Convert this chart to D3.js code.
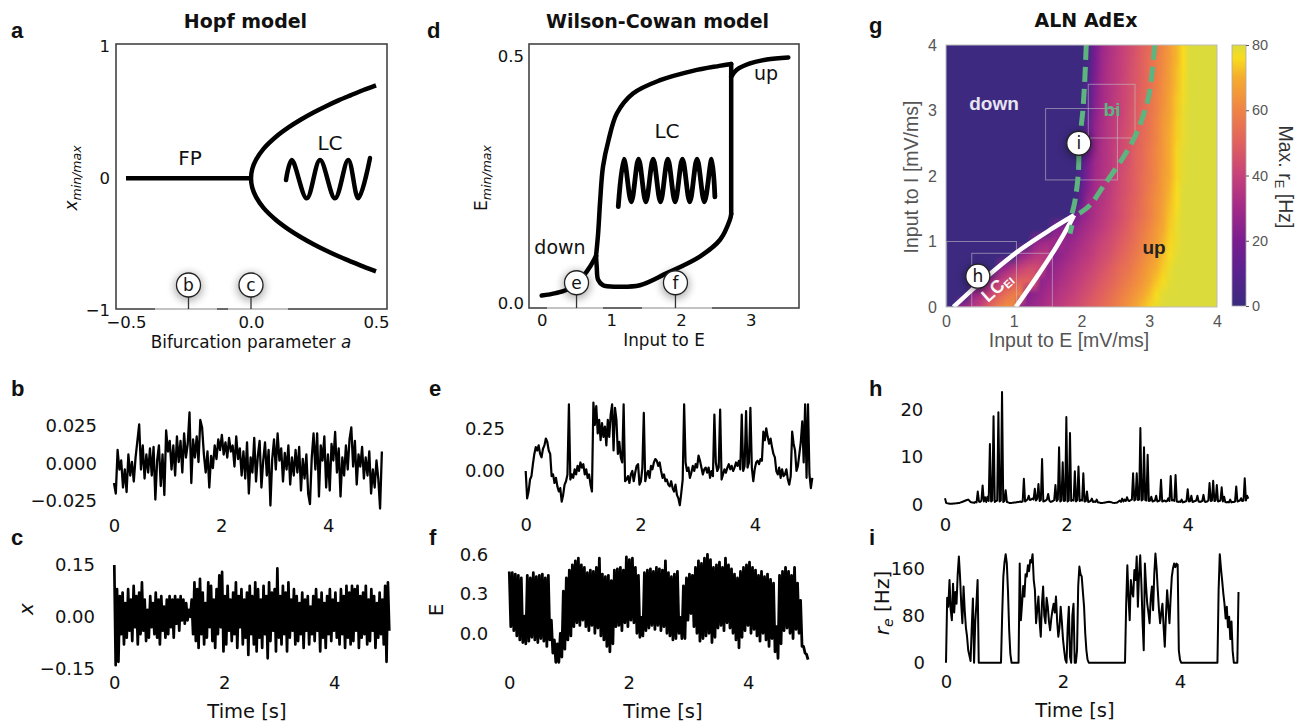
<!DOCTYPE html>
<html>
<head lang="en">
  <meta charset="UTF-8">
  <title>Hopf, Wilson-Cowan and ALN AdEx</title>
  <script src="https://cdn.jsdelivr.net/npm/d3@7/dist/d3.min.js"></script>
</head>
<style>
  body { margin: 0; background: #fff; }
  #fig text { font-family: "DejaVu Sans", sans-serif; }
</style>
<body>
<svg id="fig" width="1302" height="724"></svg>
<script>
  var ARIAL = '"Liberation Sans", Arial, sans-serif';

  // ---------- panel a : Hopf bifurcation ----------
  var hopfFpA    = [-0.5, 0];
  var hopfFpX    = [0, 0];
  var hopfLcA    = [0, 0.005, 0.02, 0.05, 0.1, 0.15, 0.2, 0.25, 0.3, 0.35, 0.4, 0.45, 0.5];
  var hopfLcMax  = [0, 0.071, 0.141, 0.224, 0.316, 0.387, 0.447, 0.5, 0.548, 0.592, 0.632, 0.671, 0.707];
  var hopfLcMin  = [0, -0.071, -0.141, -0.224, -0.316, -0.387, -0.447, -0.5, -0.548, -0.592, -0.632, -0.671, -0.707];
  var hopfIconA  = [0.14, 0.163, 0.223, 0.276, 0.336, 0.389, 0.429, 0.476];
  var hopfIconX  = [-0.013, 0.139, -0.152, 0.139, -0.152, 0.139, -0.152, 0.154];
  var hopfMarkA  = [-0.25, 0];
  var hopfMarkLab = ['b', 'c'];

  // ---------- panel d : Wilson-Cowan bifurcation ----------
  var wcDownIn = [0, 0.2, 0.36, 0.5, 0.6, 0.7, 0.78];
  var wcDownE  = [0.015, 0.02, 0.027, 0.04, 0.055, 0.075, 0.095];
  var wcMaxIn  = [0.78, 0.81, 0.84, 0.88, 0.96, 1.08, 1.31, 1.70, 2.17, 2.55, 2.72];
  var wcMaxE   = [0.095, 0.141, 0.209, 0.276, 0.33, 0.384, 0.424, 0.451, 0.47, 0.48, 0.484];
  var wcMinIn  = [0.78, 0.79, 0.81, 0.88, 1.08, 1.41, 1.79, 2.27, 2.56, 2.70, 2.72];
  var wcMinE   = [0.095, 0.073, 0.047, 0.036, 0.033, 0.036, 0.06, 0.094, 0.128, 0.168, 0.18];
  var wcJumpIn = [2.72, 2.72];
  var wcJumpE  = [0.484, 0.18];
  var wcUpIn   = [2.72, 2.80, 2.99, 3.23, 3.54];
  var wcUpE    = [0.458, 0.472, 0.485, 0.493, 0.497];
  var wcIconIn = [1.099, 1.181, 1.286, 1.39, 1.495, 1.6, 1.705, 1.81, 1.915, 2.02, 2.125, 2.23, 2.335, 2.44, 2.486];
  var wcIconE  = [0.195, 0.291, 0.205, 0.291, 0.205, 0.291, 0.205, 0.291, 0.205, 0.291, 0.205, 0.291, 0.205, 0.291, 0.215];
  var wcMarkIn = [0.5, 1.92];
  var wcMarkLab = ['e', 'f'];

  // ---------- panel g : ALN state space, max rE [Hz] ----------
  // rows: input to I = 0, 0.2, ... 4.0 ; columns: input to E = 0, 0.1, ... 4.0
  var alnRate = [
    [1,1,25,30,35,40,48,55,60,63,62,23,26,29,31,34,36,38,41,43,45,48,50,53,56,58,62,65,68,72,75,78,80,80,80,80,80,80,80,80,80],
    [1,1,1,1,28,32,38,44,50,55,58,58,22,25,28,31,33,36,38,40,43,45,48,50,53,56,59,62,65,68,72,76,79,80,80,80,80,80,80,80,80],
    [1,1,1,1,1,1,28,33,38,43,47,50,50,48,25,28,30,33,35,38,40,43,45,48,50,53,56,59,62,65,69,73,76,79,80,80,80,80,80,80,80],
    [1,1,1,1,1,1,1,1,25,30,35,40,43,44,42,24,27,30,33,35,38,40,43,45,48,51,54,56,60,63,67,70,74,78,80,80,80,80,80,80,80],
    [1,1,1,1,1,1,1,1,1,1,1,26,30,34,36,36,23,26,29,32,35,37,40,43,45,48,51,54,57,61,64,68,72,76,79,80,80,80,80,80,80],
    [1,1,1,1,1,1,1,1,1,1,1,1,1,24,28,30,30,28,26,29,32,35,38,41,43,46,49,52,55,59,63,66,71,75,78,80,80,80,80,80,80],
    [1,1,1,1,1,1,1,1,1,1,1,1,1,1,1,1,22,24,23,25,29,32,35,38,41,44,47,50,54,57,61,65,69,74,78,80,80,80,80,80,80],
    [1,1,1,1,1,1,1,1,1,1,1,1,1,1,1,1,1,1,1,18,25,29,33,36,39,42,45,48,52,55,59,63,68,73,77,80,80,80,80,80,80],
    [1,1,1,1,1,1,1,1,1,1,1,1,1,1,1,1,1,1,1,1,16,29,32,35,38,42,45,48,51,55,59,63,67,72,76,80,80,80,80,80,80],
    [1,1,1,1,1,1,1,1,1,1,1,1,1,1,1,1,1,1,1,1,14,24,31,34,37,41,44,47,50,54,58,62,66,71,76,80,80,80,80,80,80],
    [1,1,1,1,1,1,1,1,1,1,1,1,1,1,1,1,1,1,1,1,10,22,30,34,37,40,44,47,50,54,57,61,66,70,75,79,80,80,80,80,80],
    [1,1,1,1,1,1,1,1,1,1,1,1,1,1,1,1,1,1,1,1,9,21,29,33,36,40,43,46,50,53,57,61,65,70,75,79,80,80,80,80,80],
    [1,1,1,1,1,1,1,1,1,1,1,1,1,1,1,1,1,1,1,1,6,18,28,33,36,40,43,46,50,53,57,61,65,70,75,79,80,80,80,80,80],
    [1,1,1,1,1,1,1,1,1,1,1,1,1,1,1,1,1,1,1,1,4,16,27,32,36,39,43,46,49,53,56,60,65,70,74,78,80,80,80,80,80],
    [1,1,1,1,1,1,1,1,1,1,1,1,1,1,1,1,1,1,1,1,1,14,26,32,36,39,42,45,49,52,56,60,65,69,74,78,80,80,80,80,80],
    [1,1,1,1,1,1,1,1,1,1,1,1,1,1,1,1,1,1,1,1,1,10,24,31,35,38,41,45,48,52,55,59,64,68,73,78,80,80,80,80,80],
    [1,1,1,1,1,1,1,1,1,1,1,1,1,1,1,1,1,1,1,1,1,8,23,30,34,38,41,44,48,51,55,59,63,68,73,77,80,80,80,80,80],
    [1,1,1,1,1,1,1,1,1,1,1,1,1,1,1,1,1,1,1,1,1,8,22,30,34,37,41,44,47,51,54,58,63,67,72,77,80,80,80,80,80],
    [1,1,1,1,1,1,1,1,1,1,1,1,1,1,1,1,1,1,1,1,1,6,21,29,34,37,40,44,47,50,54,58,62,67,72,76,80,80,80,80,80],
    [1,1,1,1,1,1,1,1,1,1,1,1,1,1,1,1,1,1,1,1,1,5,20,29,33,37,40,43,47,50,54,58,62,66,71,76,80,80,80,80,80],
    [1,1,1,1,1,1,1,1,1,1,1,1,1,1,1,1,1,1,1,1,1,5,20,28,33,36,40,43,46,50,53,57,61,66,71,76,80,80,80,80,80]
  ];
  var alnEStep = 0.1, alnIStep = 0.2;
  var alnBiLeftE  = [2.07, 2.05, 2.02, 1.97, 1.95, 1.90, 1.86];
  var alnBiLeftI  = [4.0, 3.5, 3.0, 2.5, 2.0, 1.6, 1.43];
  var alnBiStubE  = [1.83, 1.86];
  var alnBiStubI  = [1.12, 1.25];
  var alnBiRightE = [3.08, 2.99, 2.81, 2.62, 2.32, 2.13, 1.97];
  var alnBiRightI = [4.0, 3.21, 2.65, 2.29, 1.84, 1.56, 1.43];
  var alnLcUpE    = [0.11, 0.60, 1.09, 1.54, 1.89];
  var alnLcUpI    = [0.0, 0.46, 0.87, 1.18, 1.40];
  var alnLcLoE    = [1.03, 1.34, 1.63, 1.83, 1.89];
  var alnLcLoI    = [0.0, 0.46, 0.92, 1.28, 1.40];
  var alnMarkE    = [0.47, 1.96];
  var alnMarkI    = [0.47, 2.5];
  var alnMarkLab  = ['h', 'i'];
  var alnBoxes    = [[1.47, 2.53, 1.94, 3.03], [2.10, 2.79, 2.58, 3.40], [0.01, 1.04, 0.0, 1.0], [0.38, 1.57, 0.0, 0.82]];
  var cbarTicks   = [0, 20, 40, 60, 80];
  var cmapVals    = [0, 10, 20, 30, 40, 50, 60, 70, 76, 80];
  var cmapCols    = ['#3a2b7e', '#58228f', '#7a1d90', '#a22a88', '#c6417a', '#e1615f', '#ef8345', '#f5ac2f', '#f8dc1f', '#dcdb3c'];

  // ---------- time series (sampled evenly over 0..5 s) ----------
  var hopfB = [-0.013,-0.02,0.009,-0.004,0.002,-0.016,-0.004,-0.019,0.006,-0.008,
    0.001,-0.012,0.004,0.015,0.026,-0.004,0.012,-0.01,0.006,-0.006,
    0.01,-0.008,0.011,-0.024,0.002,0.012,-0.015,0.006,-0.021,0.022,
    0.008,0.015,-0.004,0.012,-0.008,0.018,0.001,0.015,-0.006,0.02,
    0.004,0.013,0.034,-0.013,0.016,0.004,0.018,0.001,0.029,0.024,
    0.006,-0.006,0.008,-0.016,0.005,-0.003,0.012,0.003,0.016,0.009,
    0.019,0.006,0.014,0.004,0.017,0.008,0.012,-0.002,0.018,0.003,
    0.01,-0.008,0.008,-0.01,0.014,-0.02,0.004,-0.006,0.017,-0.012,
    0.005,0.015,-0.016,0.002,0.014,-0.008,0.009,-0.028,0.003,0.016,
    -0.004,0.02,0.002,0.01,-0.012,0.007,-0.004,0.012,-0.014,0.004,
    -0.008,0.009,-0.006,0.011,-0.018,0.003,-0.01,0.006,-0.02,-0.027,
    0.004,0.02,-0.004,0.02,-0.022,0.012,0.002,0.018,-0.016,0.006,
    -0.018,0.013,0.002,0.021,-0.006,0.01,-0.022,0.004,-0.008,0.012,
    -0.004,0.016,0.024,-0.002,0.015,-0.014,0.006,-0.002,0.011,-0.01,
    0.004,-0.008,0.008,-0.02,-0.004,-0.016,0.002,-0.01,-0.03,0.008];

  var hopfC = [0.15,-0.14,0.08,-0.13,0.06,-0.05,0.07,-0.08,0.04,-0.06,0.08,-0.04,0.05,-0.07,0.09,-0.03,0.06,-0.08,0.07,-0.05,
    0.1,-0.04,0.05,-0.07,0.02,-0.06,0.06,-0.03,0.04,-0.05,0.07,-0.06,0.05,-0.08,0.06,-0.04,0.03,-0.06,0.05,-0.05,
    0.06,-0.03,0.05,-0.06,0.06,-0.02,0.05,-0.04,0.06,-0.01,0.05,-0.02,0.04,-0.01,0.02,0.0,0.05,-0.05,0.1,-0.07,
    0.08,-0.09,0.11,-0.05,0.07,-0.08,0.04,-0.06,0.1,-0.03,0.09,-0.07,0.05,-0.09,0.08,-0.05,0.12,-0.03,0.13,-0.1,
    0.06,-0.08,0.09,-0.04,0.05,-0.07,0.07,-0.05,0.1,-0.09,0.06,-0.03,0.08,-0.08,0.05,-0.06,0.07,-0.11,0.09,-0.05,
    0.06,-0.08,0.1,-0.1,0.08,-0.06,0.05,-0.09,0.09,-0.05,0.06,-0.12,0.1,-0.07,0.07,-0.04,0.08,-0.1,0.14,-0.06,
    0.06,-0.08,0.09,-0.05,0.07,-0.1,0.1,-0.06,0.05,-0.04,0.08,-0.08,0.06,-0.07,0.04,-0.05,0.07,-0.09,0.05,-0.04,
    0.06,-0.08,0.03,-0.05,0.06,-0.07,0.08,-0.04,0.05,-0.1,0.07,-0.06,0.04,-0.09,0.06,-0.05,0.08,-0.07,0.05,-0.04,
    0.07,-0.06,0.04,-0.08,0.08,-0.05,0.06,-0.09,0.09,-0.06,0.07,-0.08,0.09,-0.07,0.08,-0.04,0.09,-0.09,0.06,-0.06,
    0.07,-0.05,0.09,-0.08,0.05,-0.07,0.08,-0.04,0.06,-0.09,0.04,-0.06,0.07,-0.05,0.05,-0.08,0.09,-0.13,0.1,-0.04];

  var wcE = [0.0,-0.16,-0.12,-0.05,-0.03,0.04,0.1,0.14,0.12,0.15,
    0.1,0.08,0.13,0.15,0.19,0.17,0.12,0.1,-0.03,-0.02,
    -0.07,-0.04,-0.09,-0.12,-0.1,-0.18,-0.14,-0.08,-0.06,-0.02,
    0.39,-0.05,-0.02,-0.04,0.01,-0.02,0.03,0.0,0.05,0.02,
    0.04,-0.02,0.01,-0.04,-0.02,-0.08,-0.12,0.4,0.27,0.38,
    0.22,0.3,0.18,0.28,0.2,0.26,0.15,0.3,0.2,0.33,
    0.39,0.12,0.37,0.3,0.1,0.17,0.08,0.05,0.39,-0.06,
    -0.05,-0.03,-0.07,-0.02,0.0,-0.06,-0.01,0.03,0.04,-0.08,
    -0.06,0.02,0.34,-0.06,-0.02,0.0,-0.04,0.03,0.01,0.05,
    0.07,0.06,0.03,0.05,0.0,-0.04,-0.02,-0.06,-0.05,-0.08,
    -0.09,-0.06,-0.1,-0.12,-0.08,-0.14,-0.16,-0.2,-0.13,-0.05,
    0.39,0.05,0.0,0.02,-0.04,-0.01,0.03,0.0,0.04,0.02,
    0.09,0.06,0.02,-0.02,0.01,0.02,-0.01,0.02,-0.04,0.0,
    -0.03,0.33,0.05,0.0,0.02,0.36,-0.05,-0.02,0.01,-0.01,
    0.02,0.04,0.01,0.03,0.0,0.02,0.05,0.03,0.06,0.01,
    0.33,0.0,0.03,0.35,0.02,0.05,0.37,0.02,-0.06,0.01,
    0.05,0.06,0.04,0.07,0.06,0.23,0.18,0.25,0.2,0.16,
    0.19,0.14,0.1,0.08,0.0,-0.02,0.02,-0.04,0.01,-0.03,
    -0.02,0.01,-0.05,-0.08,-0.03,0.23,0.16,0.12,0.0,0.03,
    0.1,0.17,0.29,0.05,0.39,-0.04,0.39,-0.02,-0.1,-0.04];

  var wcF = [0.47,0.05,0.46,0.02,0.45,-0.02,0.44,-0.05,0.42,-0.07,0.13,-0.08,0.44,-0.06,0.42,-0.03,0.46,-0.05,0.43,-0.07,
    0.44,-0.04,0.45,-0.06,0.42,-0.1,0.44,-0.05,0.1,-0.15,-0.05,-0.22,-0.08,-0.22,0.0,-0.18,0.32,-0.12,0.42,-0.05,
    0.48,-0.02,0.52,0.05,0.55,0.08,0.57,0.06,0.52,0.1,0.5,0.05,0.46,0.02,0.48,0.06,0.47,0.0,0.5,0.04,
    0.57,-0.02,0.45,-0.05,0.43,-0.1,0.44,-0.14,0.4,-0.08,0.48,0.05,0.49,0.06,0.5,0.02,0.48,0.08,0.58,0.05,
    0.56,0.1,0.57,0.08,0.5,0.0,0.44,-0.03,0.12,-0.02,0.46,0.02,0.48,0.04,0.49,0.06,0.47,0.03,0.5,0.06,
    0.49,0.02,0.48,0.05,0.55,0.0,0.46,-0.02,0.43,-0.05,0.45,-0.04,0.47,0.0,0.12,-0.04,0.36,-0.04,0.42,0.1,
    0.45,0.15,0.44,0.05,0.5,0.0,0.55,-0.06,0.53,-0.04,0.57,-0.02,0.6,0.0,0.56,-0.07,0.5,-0.03,0.52,0.04,
    0.54,0.06,0.5,0.02,0.57,0.08,0.52,0.04,0.49,0.0,0.45,-0.05,0.42,-0.11,0.47,-0.03,0.5,0.02,0.52,0.06,
    0.54,0.0,0.5,0.03,0.48,-0.02,0.44,-0.06,0.47,0.0,0.43,-0.05,0.45,-0.1,0.41,-0.04,0.38,-0.14,0.05,-0.19,
    0.44,-0.08,0.47,0.02,0.5,0.04,0.47,0.0,0.44,-0.04,0.5,0.03,0.38,0.0,0.25,-0.1,-0.1,-0.15,-0.16,-0.2];

  var alnH = [1.3,0.3,0.2,0.15,0.1,0.1,0.1,0.15,0.15,0.2,
    0.2,0.3,0.3,0.4,0.5,0.6,0.7,0.8,0.9,1.0,
    0.8,0.5,0.4,0.4,0.3,0.5,0.4,2.7,0.6,0.5,
    0.8,4.0,0.6,1.5,0.5,1.6,0.7,12.8,0.6,0.8,
    18.7,0.5,0.7,0.8,19.5,0.6,0.8,23.8,0.5,0.7,
    3.0,0.5,0.4,0.3,0.3,0.3,0.35,0.4,0.4,0.45,
    0.5,0.5,0.6,0.5,0.6,5.4,0.6,0.8,1.0,1.8,
    0.9,1.0,1.2,1.0,3.3,0.8,1.2,4.3,0.7,0.9,
    9.6,0.6,0.7,0.8,1.0,2.2,0.8,0.5,0.6,0.7,
    0.9,4.1,0.7,1.0,12.1,0.6,0.8,8.9,0.7,0.8,
    18.5,0.6,0.8,15.1,0.7,0.9,0.8,7.0,0.6,0.9,
    8.0,0.7,0.9,0.8,6.6,0.6,0.7,2.7,0.5,0.6,
    0.7,1.2,0.5,0.6,0.5,1.0,0.4,0.4,0.3,0.3,
    0.3,0.35,0.4,0.45,0.5,0.55,0.5,0.45,0.35,0.3,
    0.3,0.35,0.4,0.6,0.8,0.5,1.2,0.6,1.0,0.7,
    1.5,0.8,0.7,0.9,1.0,6.6,0.8,1.0,6.6,0.9,
    1.0,16.2,0.8,1.0,12.1,0.9,0.8,10.5,0.7,0.8,
    1.6,0.6,0.7,0.8,1.8,0.6,0.7,0.8,5.2,0.6,
    0.7,0.8,0.6,0.7,1.3,0.7,6.0,0.8,0.9,0.7,
    6.2,0.6,0.5,0.6,0.5,1.0,0.4,0.5,0.6,0.7,
    3.2,0.6,0.7,1.8,0.5,0.6,0.7,0.8,1.8,0.6,
    0.5,0.6,0.7,2.0,0.6,0.5,0.6,0.8,4.5,0.7,
    0.8,5.0,0.7,0.8,4.1,0.6,0.7,0.8,3.6,0.6,
    1.6,0.5,0.4,0.5,0.4,1.0,0.4,0.5,0.5,0.6,
    3.8,0.6,0.7,0.8,1.3,0.7,0.8,5.5,0.8,1.8,1.2];

  var alnI = [0,110,95,140,90,72,134,85,120,100,
    150,180,146,100,67,129,89,60,44,21,
    12,3,60,109,0,70,100,140,0,0,
    0,0,0,0,0,0,0,0,0,0,
    0,0,0,0,0,0,0,0,80,146,
    170,184,168,120,55,15,0,0,0,0,
    0,0,0,168,72,100,130,112,150,146,
    165,155,174,170,184,140,123,67,90,112,
    70,44,100,129,80,67,110,95,70,55,
    75,89,100,85,112,70,44,60,95,70,
    40,21,5,0,60,95,10,0,80,100,
    0,0,21,130,163,150,146,120,95,50,
    21,5,0,0,0,0,0,0,0,0,
    0,0,0,0,0,0,0,0,0,0,
    0,0,0,0,0,0,0,0,0,0,
    0,0,0,0,100,165,110,72,140,120,
    112,157,140,180,95,150,182,134,70,21,
    168,130,100,85,67,110,129,89,150,185,
    160,123,90,67,85,100,60,27,80,123,
    95,67,110,146,160,168,162,168,166,21,
    5,0,0,0,0,0,0,0,0,0,
    0,0,0,0,0,0,0,0,0,0,
    0,0,0,0,0,0,0,0,0,0,
    0,0,0,123,184,160,140,118,100,75,
    95,60,78,40,70,20,0,0,0,0,
    120];

  // ---------- drawing ----------
  var svg = d3.select('#fig');
  var defs = svg.append('defs');
  defs.append('filter').attr('id', 'soft')
    .attr('x', '-100%').attr('y', '-100%').attr('width', '300%').attr('height', '300%')
    .append('feGaussianBlur').attr('stdDeviation', 4);

  function addText(g, x, y, str, o) {
    o = o || {};
    var t = g.append('text').attr('x', x).attr('y', y).text(str)
      .attr('font-size', o.size || 16)
      .attr('text-anchor', o.anchor || 'middle')
      .attr('fill', o.fill || '#111');
    if (o.bold) t.attr('font-weight', 'bold');
    if (o.family) t.style('font-family', o.family);
    return t;
  }

  function clean(a, size, color) {
    a.select('.domain').remove();
    a.selectAll('.tick line').remove();
    a.attr('font-size', size).attr('color', color || '#111');
    return a;
  }

  function marker(g, cx, cy, lab, stemTo) {
    g.append('circle').attr('cx', cx).attr('cy', cy + 2).attr('r', 14)
      .attr('fill', '#000').attr('opacity', 0.32).attr('filter', 'url(#soft)');
    if (stemTo != null) {
      g.append('line').attr('x1', cx).attr('x2', cx).attr('y1', cy + 12).attr('y2', stemTo)
        .attr('stroke', '#333').attr('stroke-width', 1.3);
    }
    g.append('circle').attr('cx', cx).attr('cy', cy).attr('r', 12)
      .attr('fill', '#fff').attr('stroke', '#222').attr('stroke-width', 1.3);
    addText(g, cx, cy, lab, { size: 17 }).attr('dy', '0.36em');
  }

  function panelLetter(x, y, s) {
    addText(svg, x, y, s, { size: 22, bold: true, anchor: 'start', family: ARIAL });
  }

  // ===== panel a =====
  var gA = svg.append('g');
  var ax = d3.scaleLinear().domain([-0.5, 0.5]).range([126, 376]);
  var ay = d3.scaleLinear().domain([-1, 1]).range([310, 46.7]);
  var lineA = d3.line().x(function (d) { return ax(d[0]); }).y(function (d) { return ay(d[1]); })
    .curve(d3.curveCatmullRom.alpha(0.5));

  gA.append('rect').attr('x', 116).attr('y', 44).attr('width', 271).attr('height', 265)
    .attr('fill', 'none').attr('stroke', '#444').attr('stroke-width', 1.6);
  gA.append('rect').attr('x', 155).attr('y', 307).attr('width', 62).attr('height', 4).attr('fill', '#fff').attr('opacity', 0.6);
  gA.append('rect').attr('x', 228).attr('y', 307).attr('width', 60).attr('height', 4).attr('fill', '#fff').attr('opacity', 0.6);

  gA.append('path').attr('d', lineA(d3.zip(hopfFpA, hopfFpX)))
    .attr('fill', 'none').attr('stroke', '#000').attr('stroke-width', 4.5);
  var lcPts = d3.zip(hopfLcA, hopfLcMin).reverse().concat(d3.zip(hopfLcA, hopfLcMax).slice(1));
  gA.append('path').attr('d', lineA(lcPts))
    .attr('fill', 'none').attr('stroke', '#000').attr('stroke-width', 4.5);
  gA.append('path').attr('d', lineA(d3.zip(hopfIconA, hopfIconX)))
    .attr('fill', 'none').attr('stroke', '#000').attr('stroke-width', 4.5).attr('stroke-linecap', 'round');

  addText(gA, 190, 165, 'FP', { size: 20 });
  addText(gA, 330, 150, 'LC', { size: 20 });

  hopfMarkA.forEach(function (a, i) { marker(gA, ax(a), ay(-0.81), hopfMarkLab[i], 309); });

  clean(gA.append('g').attr('transform', 'translate(110,0)')
    .call(d3.axisLeft(ay).tickValues([-1, 0, 1]).tickFormat(d3.format('d')).tickSize(0).tickPadding(0)), 16.5);
  clean(gA.append('g').attr('transform', 'translate(0,321.7)')
    .call(d3.axisBottom(ax).tickValues([-0.5, 0, 0.5]).tickFormat(d3.format('.1f')).tickSize(0).tickPadding(0)), 16.5)
    .selectAll('text').attr('dy', '0.36em');

  var xlA = addText(gA, 251, 347.5, 'Bifurcation parameter ', { size: 16.8 });
  xlA.append('tspan').attr('font-style', 'italic').text('a');
  var ylA = gA.append('text').attr('transform', 'translate(77,178) rotate(-90)')
    .attr('text-anchor', 'middle').attr('font-size', 17).attr('fill', '#111');
  ylA.append('tspan').attr('font-style', 'italic').text('x');
  ylA.append('tspan').attr('font-style', 'italic').attr('font-size', 12.5).attr('dy', 4).text('min/max');

  addText(svg, 245.5, 28.3, 'Hopf model', { size: 19, bold: true });
  panelLetter(11, 38.3, 'a');

  // ===== panel d =====
  var gD = svg.append('g');
  var dx = d3.scaleLinear().domain([0, 3]).range([541.7, 750.7]);
  var dy = d3.scaleLinear().domain([0, 0.5]).range([303, 56]);
  var lineD = d3.line().x(function (d) { return dx(d[0]); }).y(function (d) { return dy(d[1]); })
    .curve(d3.curveCatmullRom.alpha(0.5));
  var lineDLin = d3.line().x(function (d) { return dx(d[0]); }).y(function (d) { return dy(d[1]); });

  gD.append('rect').attr('x', 529).attr('y', 44).attr('width', 270).attr('height', 264)
    .attr('fill', 'none').attr('stroke', '#444').attr('stroke-width', 1.6);
  gD.append('rect').attr('x', 547).attr('y', 306).attr('width', 56).attr('height', 4).attr('fill', '#fff').attr('opacity', 0.6);
  gD.append('rect').attr('x', 642).attr('y', 306).attr('width', 70).attr('height', 4).attr('fill', '#fff').attr('opacity', 0.6);

  [[wcDownIn, wcDownE, lineD], [wcMaxIn, wcMaxE, lineD], [wcMinIn, wcMinE, lineD],
   [wcJumpIn, wcJumpE, lineDLin], [wcUpIn, wcUpE, lineD]].forEach(function (s) {
    gD.append('path').attr('d', s[2](d3.zip(s[0], s[1])))
      .attr('fill', 'none').attr('stroke', '#000').attr('stroke-width', 4.5).attr('stroke-linecap', 'round');
  });
  gD.append('path').attr('d', lineD(d3.zip(wcIconIn, wcIconE)))
    .attr('fill', 'none').attr('stroke', '#000').attr('stroke-width', 4.8).attr('stroke-linecap', 'round');

  addText(gD, 667, 138.3, 'LC', { size: 20 });
  addText(gD, 560, 254, 'down', { size: 19 });
  addText(gD, 766, 80, 'up', { size: 19 });

  wcMarkIn.forEach(function (v, i) { marker(gD, dx(v), dy(0.041), wcMarkLab[i], 308); });

  clean(gD.append('g').attr('transform', 'translate(524,0)')
    .call(d3.axisLeft(dy).tickValues([0, 0.5]).tickFormat(d3.format('.1f')).tickSize(0).tickPadding(0)), 16.5);
  clean(gD.append('g').attr('transform', 'translate(0,320)')
    .call(d3.axisBottom(dx).tickValues([0, 1, 2, 3]).tickFormat(d3.format('d')).tickSize(0).tickPadding(0)), 16.5)
    .selectAll('text').attr('dy', '0.36em');

  addText(gD, 664, 346, 'Input to E', { size: 16.8 });
  var ylD = gD.append('text').attr('transform', 'translate(487,178) rotate(-90)')
    .attr('text-anchor', 'middle').attr('font-size', 17).attr('fill', '#111');
  ylD.append('tspan').text('E');
  ylD.append('tspan').attr('font-style', 'italic').attr('font-size', 12.5).attr('dy', 4).text('min/max');

  addText(svg, 657.5, 28.3, 'Wilson-Cowan model', { size: 19, bold: true });
  panelLetter(427, 38.3, 'd');

  // ===== panel g =====
  var gG = svg.append('g');
  var gx = d3.scaleLinear().domain([0, 4]).range([946, 1217]);
  var gy = d3.scaleLinear().domain([0, 4]).range([307, 45]);
  var cmap = d3.scaleLinear().domain(cmapVals).range(cmapCols).clamp(true);

  defs.append('clipPath').attr('id', 'gclip').append('rect')
    .attr('x', gx(0)).attr('y', gy(4)).attr('width', gx(4) - gx(0)).attr('height', gy(0) - gy(4));

  var nR = alnRate.length, nC = alnRate[0].length;
  var cv = document.createElement('canvas');
  cv.width = nC; cv.height = nR;
  var ctx = cv.getContext('2d');
  var img = ctx.createImageData(nC, nR);
  alnRate.forEach(function (row, r) {
    row.forEach(function (v, c) {
      var col = d3.rgb(cmap(v));
      var k = ((nR - 1 - r) * nC + c) * 4;
      img.data[k] = col.r; img.data[k + 1] = col.g; img.data[k + 2] = col.b; img.data[k + 3] = 255;
    });
  });
  ctx.putImageData(img, 0, 0);
  var eLo = -alnEStep / 2, eHi = (nC - 1) * alnEStep + alnEStep / 2;
  var iLo = -alnIStep / 2, iHi = (nR - 1) * alnIStep + alnIStep / 2;
  var hm = gG.append('g').attr('clip-path', 'url(#gclip)');
  hm.append('image').attr('href', cv.toDataURL())
    .attr('x', gx(eLo)).attr('y', gy(iHi))
    .attr('width', gx(eHi) - gx(eLo)).attr('height', gy(iLo) - gy(iHi))
    .attr('preserveAspectRatio', 'none').style('image-rendering', 'auto');

  alnBoxes.forEach(function (b) {
    hm.append('rect').attr('x', gx(b[0])).attr('y', gy(b[3]))
      .attr('width', gx(b[1]) - gx(b[0])).attr('height', gy(b[2]) - gy(b[3]))
      .attr('fill', 'none').attr('stroke', '#c8c8c8').attr('stroke-opacity', 0.55).attr('stroke-width', 1);
  });

  var lineG = d3.line().x(function (d) { return gx(d[0]); }).y(function (d) { return gy(d[1]); })
    .curve(d3.curveCatmullRom.alpha(0.5));
  [[alnLcUpE, alnLcUpI], [alnLcLoE, alnLcLoI]].forEach(function (s) {
    hm.append('path').attr('d', lineG(d3.zip(s[0], s[1])))
      .attr('fill', 'none').attr('stroke', '#fff').attr('stroke-width', 4.5).attr('stroke-linejoin', 'round');
  });
  [[alnBiLeftE, alnBiLeftI], [alnBiRightE, alnBiRightI], [alnBiStubE, alnBiStubI]].forEach(function (s) {
    hm.append('path').attr('d', lineG(d3.zip(s[0], s[1])))
      .attr('fill', 'none').attr('stroke', '#5db47f').attr('stroke-width', 5)
      .attr('stroke-dasharray', '15,7');
  });

  gG.append('rect').attr('x', gx(0)).attr('y', gy(4)).attr('width', gx(4) - gx(0)).attr('height', gy(0) - gy(4))
    .attr('fill', 'none').attr('stroke', '#bbb').attr('stroke-width', 1);

  addText(gG, 994, 110, 'down', { size: 19, bold: true, fill: '#e6e4f0', family: ARIAL });
  addText(gG, 1112, 115.7, 'bi', { size: 19, bold: true, fill: '#5db47f', family: ARIAL });
  addText(gG, 1154, 254, 'up', { size: 19, bold: true, fill: '#222', family: ARIAL });
  var lcT = gG.append('text').attr('transform', 'translate(988,303) rotate(-42)')
    .attr('font-size', 18).attr('font-weight', 'bold').attr('fill', '#fff').style('font-family', ARIAL);
  lcT.append('tspan').text('LC');
  lcT.append('tspan').attr('font-size', 11).attr('dy', 3).text('EI');

  alnMarkE.forEach(function (e, i) { marker(gG, gx(e), gy(alnMarkI[i]), alnMarkLab[i], null); });

  var gyAx = clean(gG.append('g').attr('transform', 'translate(937,0)')
    .call(d3.axisLeft(gy).tickValues([0, 1, 2, 3, 4]).tickFormat(d3.format('d')).tickSize(0).tickPadding(0)), 16, '#555');
  gyAx.selectAll('text').style('font-family', ARIAL);
  var gxAx = clean(gG.append('g').attr('transform', 'translate(0,321.7)')
    .call(d3.axisBottom(gx).tickValues([0, 1, 2, 3, 4]).tickFormat(d3.format('d')).tickSize(0).tickPadding(0)), 16, '#555');
  gxAx.selectAll('text').attr('dy', '0.36em').style('font-family', ARIAL);

  addText(gG, 1069, 346.7, 'Input to E [mV/ms]', { size: 19.5, fill: '#555', family: ARIAL });
  addText(gG, 0, 0, 'Input to I [mV/ms]', { size: 19.5, fill: '#555', family: ARIAL })
    .attr('transform', 'translate(918,177) rotate(-90)');

  // colorbar
  var cy = d3.scaleLinear().domain([0, 80]).range([306, 45]);
  var grad = defs.append('linearGradient').attr('id', 'cbar')
    .attr('x1', 0).attr('y1', 1).attr('x2', 0).attr('y2', 0);
  cmapVals.forEach(function (v, i) {
    grad.append('stop').attr('offset', v / 80).attr('stop-color', cmapCols[i]);
  });
  gG.append('rect').attr('x', 1232).attr('y', cy(80)).attr('width', 14).attr('height', cy(0) - cy(80))
    .attr('fill', 'url(#cbar)').attr('stroke', '#aaa').attr('stroke-width', 0.8);
  var cAx = gG.append('g').attr('transform', 'translate(1246,0)')
    .call(d3.axisRight(cy).tickValues(cbarTicks).tickFormat(d3.format('d')).tickSize(3).tickPadding(3));
  cAx.select('.domain').remove();
  cAx.attr('font-size', 14.5).attr('color', '#555');
  cAx.selectAll('text').style('font-family', ARIAL);
  var cbl = gG.append('text').attr('transform', 'translate(1279,177) rotate(90)')
    .attr('text-anchor', 'middle').attr('font-size', 19.5).attr('fill', '#333').style('font-family', ARIAL);
  cbl.append('tspan').text('Max. r');
  cbl.append('tspan').attr('font-size', 13).attr('dy', 4).text('E');
  cbl.append('tspan').attr('dy', -4).text(' [Hz]');

  addText(svg, 1086, 26.5, 'ALN AdEx', { size: 19, bold: true });
  panelLetter(869, 33, 'g');

  // ===== time series panels =====
  var tsPanels = [
    { vals: hopfB, x0: 114,   x4: 328.3, yv: [-0.025, 0.025], yp: [501, 426],   ticks: [-0.025, 0, 0.025], fmt: '.3f', yr: 97,    xl: 526,   sw: 2.3 },
    { vals: hopfC, x0: 114.3, x4: 334.3, yv: [-0.15, 0.15],   yp: [668.7, 565], ticks: [-0.15, 0, 0.15],   fmt: '.2f', yr: 95,    xl: 682.7, sw: 2.7 },
    { vals: wcE,   x0: 525.7, x4: 755,   yv: [0, 0.25],       yp: [471, 428.3], ticks: [0, 0.25],          fmt: '.2f', yr: 505,   xl: 525,   sw: 2.2 },
    { vals: wcF,   x0: 509.3, x4: 748.3, yv: [0, 0.6],        yp: [633.3, 554.3], ticks: [0, 0.3, 0.6],    fmt: '.1f', yr: 488.3, xl: 682.7, sw: 2.8 },
    { vals: alnH,  x0: 945,   x4: 1187.7, yv: [0, 20],        yp: [504.3, 410], ticks: [0, 10, 20],        fmt: 'd',   yr: 923.3, xl: 525,   sw: 2 },
    { vals: alnI,  x0: 946,   x4: 1180,  yv: [0, 160],        yp: [662.7, 568.3], ticks: [0, 80, 160],     fmt: 'd',   yr: 925,   xl: 681.7, sw: 2 }
  ];

  tsPanels.forEach(function (p) {
    var x = d3.scaleLinear().domain([0, 4]).range([p.x0, p.x4]);
    var y = d3.scaleLinear().domain(p.yv).range(p.yp);
    var n = p.vals.length;
    var t = d3.range(n).map(function (i) { return i * 5 / (n - 1); });
    var g = svg.append('g');
    g.append('path').datum(p.vals)
      .attr('fill', 'none').attr('stroke', '#000').attr('stroke-width', p.sw).attr('stroke-linejoin', 'round')
      .attr('d', d3.line().x(function (d, i) { return x(t[i]); }).y(function (d) { return y(d); }));
    clean(g.append('g').attr('transform', 'translate(' + p.yr + ',0)')
      .call(d3.axisLeft(y).tickValues(p.ticks).tickFormat(d3.format(p.fmt)).tickSize(0).tickPadding(0)), 18);
    clean(g.append('g').attr('transform', 'translate(0,' + p.xl + ')')
      .call(d3.axisBottom(x).tickValues([0, 2, 4]).tickFormat(d3.format('d')).tickSize(0).tickPadding(0)), 18)
      .selectAll('text').attr('dy', '0.36em');
  });

  addText(svg, 247, 718, 'Time [s]', { size: 19.5 });
  addText(svg, 663, 718, 'Time [s]', { size: 19.5 });
  addText(svg, 1075, 717, 'Time [s]', { size: 19.5 });

  var ylC = svg.append('text').attr('transform', 'translate(33,609) rotate(-90)')
    .attr('text-anchor', 'middle').attr('font-size', 20).attr('fill', '#111');
  ylC.append('tspan').attr('font-style', 'italic').text('x');
  addText(svg, 0, 0, 'E', { size: 20 }).attr('transform', 'translate(443,610) rotate(-90)');
  var ylI = svg.append('text').attr('transform', 'translate(889,603) rotate(-90)')
    .attr('text-anchor', 'middle').attr('font-size', 20).attr('fill', '#111');
  ylI.append('tspan').attr('font-style', 'italic').text('r');
  ylI.append('tspan').attr('font-style', 'italic').attr('font-size', 14).attr('dy', 4).text('e');
  ylI.append('tspan').attr('dy', -4).text(' [Hz]');

  panelLetter(11, 396, 'b');
  panelLetter(11, 545, 'c');
  panelLetter(429, 396, 'e');
  panelLetter(429, 545, 'f');
  panelLetter(869, 396, 'h');
  panelLetter(869, 545, 'i');
</script>
</body>
</html>
